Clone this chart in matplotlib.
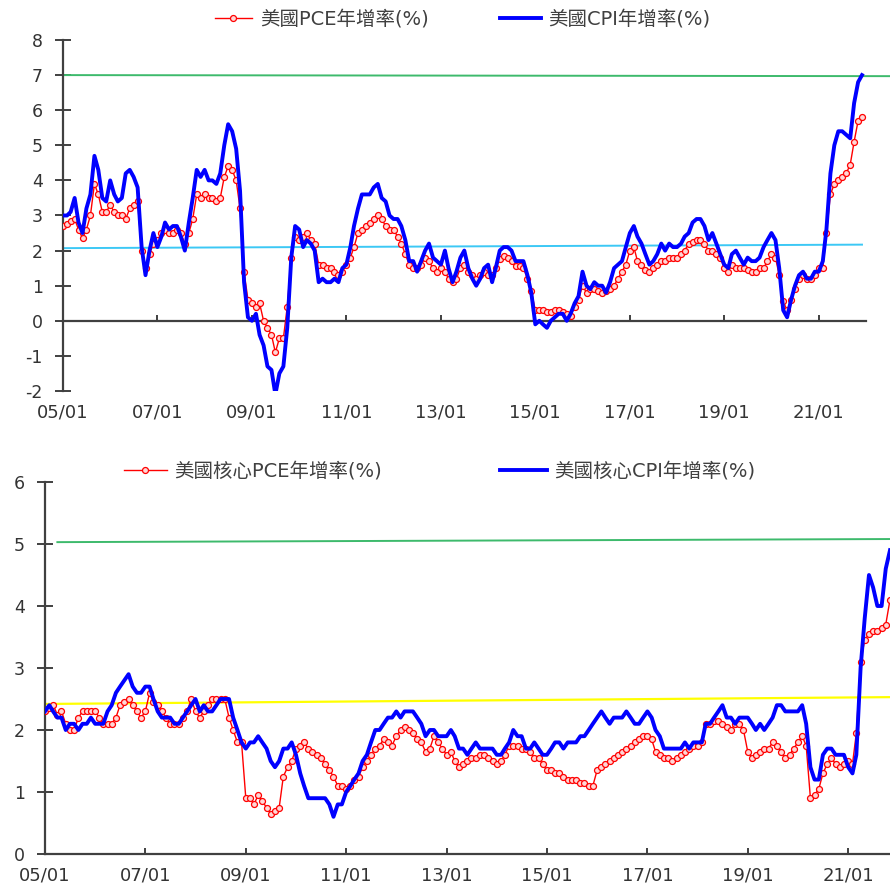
import matplotlib
matplotlib.use("Agg")
import matplotlib.pyplot as plt
import matplotlib.dates as mdates
import pandas as pd

plt.rcParams['font.family'] = ['DejaVu Sans', 'Noto Sans CJK TC']
plt.rcParams['axes.unicode_minus'] = False

# monthly YoY, 2005/01 - 2021/12
pce = [
	2.7, 2.75, 2.85, 2.9, 2.6, 2.35, 2.6, 3.0, 3.9, 3.6, 3.1, 3.1,
	3.3, 3.1, 3.0, 3.0, 2.9, 3.2, 3.3, 3.4, 2.0, 1.5, 1.9, 2.2,
	2.3, 2.5, 2.6, 2.5, 2.5, 2.6, 2.5, 2.2, 2.5, 2.9, 3.6, 3.5,
	3.6, 3.5, 3.5, 3.4, 3.5, 4.1, 4.4, 4.3, 4.0, 3.2, 1.4, 0.6,
	0.5, 0.4, 0.5, 0.0, -0.2, -0.4, -0.9, -0.5, -0.5, 0.4, 1.8, 2.4,
	2.3, 2.4, 2.5, 2.3, 2.2, 1.6, 1.6, 1.5, 1.5, 1.4, 1.3, 1.4,
	1.6, 1.8, 2.1, 2.5, 2.6, 2.7, 2.8, 2.9, 3.0, 2.9, 2.7, 2.6,
	2.6, 2.4, 2.2, 1.9, 1.6, 1.5, 1.5, 1.6, 1.8, 1.7, 1.5, 1.4,
	1.5, 1.4, 1.2, 1.1, 1.2, 1.5, 1.6, 1.4, 1.3, 1.2, 1.3, 1.4,
	1.3, 1.3, 1.5, 1.75, 1.85, 1.8, 1.7, 1.55, 1.55, 1.5, 1.2, 0.85,
	0.3, 0.3, 0.3, 0.25, 0.25, 0.3, 0.3, 0.25, 0.2, 0.15, 0.4, 0.6,
	1.0, 0.8, 0.9, 0.9, 0.85, 0.8, 0.85, 0.9, 1.0, 1.2, 1.4, 1.6,
	2.0, 2.1, 1.7, 1.6, 1.45, 1.4, 1.5, 1.6, 1.7, 1.7, 1.8, 1.8,
	1.8, 1.9, 2.0, 2.2, 2.25, 2.3, 2.3, 2.2, 2.0, 2.0, 1.9, 1.8,
	1.5, 1.4, 1.6, 1.5, 1.5, 1.5, 1.45, 1.4, 1.4, 1.5, 1.5, 1.7,
	1.9, 1.8, 1.3, 0.55, 0.3, 0.6, 0.9, 1.2, 1.3, 1.2, 1.2, 1.3,
	1.5, 1.5, 2.5, 3.6, 3.9, 4.0, 4.1, 4.2, 4.45, 5.1, 5.7, 5.8,
]
cpi = [
	3.0, 3.0, 3.1, 3.5, 2.8, 2.5, 3.2, 3.6, 4.7, 4.3, 3.5, 3.4,
	4.0, 3.6, 3.4, 3.5, 4.2, 4.3, 4.1, 3.8, 2.1, 1.3, 2.0, 2.5,
	2.1, 2.4, 2.8, 2.6, 2.7, 2.7, 2.4, 2.0, 2.8, 3.5, 4.3, 4.1,
	4.3, 4.0, 4.0, 3.9, 4.2, 5.0, 5.6, 5.4, 4.9, 3.7, 1.1, 0.1,
	0.0, 0.2, -0.4, -0.7, -1.3, -1.4, -2.1, -1.5, -1.3, -0.2, 1.8, 2.7,
	2.6, 2.1, 2.3, 2.2, 2.0, 1.1, 1.2, 1.1, 1.1, 1.2, 1.1, 1.5,
	1.6, 2.1, 2.7, 3.2, 3.6, 3.6, 3.6, 3.8, 3.9, 3.5, 3.4, 3.0,
	2.9, 2.9, 2.7, 2.3, 1.7, 1.7, 1.4, 1.7, 2.0, 2.2, 1.8, 1.7,
	1.6, 2.0, 1.5, 1.1, 1.4, 1.8, 2.0, 1.5, 1.2, 1.0, 1.2, 1.5,
	1.6, 1.1, 1.5, 2.0, 2.1, 2.1, 2.0, 1.7, 1.7, 1.7, 1.3, 0.8,
	-0.1, 0.0, -0.1, -0.2, 0.0, 0.1, 0.2, 0.2, 0.0, 0.2, 0.5, 0.7,
	1.4, 1.0, 0.9, 1.1, 1.0, 1.0, 0.8, 1.1, 1.5, 1.6, 1.7, 2.1,
	2.5, 2.7, 2.4, 2.2, 1.9, 1.6, 1.7, 1.9, 2.2, 2.0, 2.2, 2.1,
	2.1, 2.2, 2.4, 2.5, 2.8, 2.9, 2.9, 2.7, 2.3, 2.5, 2.2, 1.9,
	1.6, 1.5, 1.9, 2.0, 1.8, 1.6, 1.8, 1.7, 1.7, 1.8, 2.1, 2.3,
	2.5, 2.3, 1.5, 0.3, 0.1, 0.6, 1.0, 1.3, 1.4, 1.2, 1.2, 1.4,
	1.4, 1.7, 2.6, 4.2, 5.0, 5.4, 5.4, 5.3, 5.2, 6.2, 6.8, 7.0,
]

# monthly YoY, 2005/01 - 2021/11
core_pce = [
	2.3, 2.35, 2.4, 2.25, 2.3, 2.1, 2.0, 2.0, 2.2, 2.3, 2.3, 2.3,
	2.3, 2.2, 2.1, 2.1, 2.1, 2.2, 2.4, 2.45, 2.5, 2.4, 2.3, 2.2,
	2.3, 2.6, 2.45, 2.4, 2.3, 2.2, 2.1, 2.1, 2.1, 2.2, 2.3, 2.5,
	2.3, 2.2, 2.3, 2.4, 2.5, 2.5, 2.5, 2.5, 2.2, 2.0, 1.8, 1.8,
	0.9, 0.9, 0.8, 0.95, 0.85, 0.75, 0.65, 0.7, 0.75, 1.25, 1.4, 1.5,
	1.7, 1.75, 1.8, 1.7, 1.65, 1.6, 1.55, 1.45, 1.35, 1.25, 1.1, 1.1,
	1.05, 1.1, 1.2, 1.25, 1.4, 1.5, 1.6, 1.7, 1.75, 1.85, 1.8, 1.75,
	1.9, 2.0, 2.05, 2.0, 1.95, 1.85, 1.8, 1.65, 1.7, 1.9, 1.8, 1.7,
	1.6, 1.65, 1.5, 1.4, 1.45, 1.5, 1.55, 1.55, 1.6, 1.6, 1.55, 1.5,
	1.45, 1.5, 1.6, 1.75, 1.75, 1.75, 1.7, 1.7, 1.65, 1.55, 1.55, 1.45,
	1.35, 1.35, 1.3, 1.3, 1.25, 1.2, 1.2, 1.2, 1.15, 1.15, 1.1, 1.1,
	1.35, 1.4, 1.45, 1.5, 1.55, 1.6, 1.65, 1.7, 1.75, 1.8, 1.85, 1.9,
	1.9, 1.85, 1.65, 1.6, 1.55, 1.55, 1.5, 1.55, 1.6, 1.65, 1.7, 1.75,
	1.75, 1.8, 2.1, 2.1, 2.15, 2.15, 2.1, 2.05, 2.0, 2.1, 2.1, 2.0,
	1.65, 1.55, 1.6, 1.65, 1.7, 1.7, 1.8, 1.75, 1.65, 1.55, 1.6, 1.7,
	1.8, 1.9, 1.75, 0.9, 0.95, 1.05, 1.3, 1.45, 1.55, 1.45, 1.4, 1.45,
	1.5, 1.45, 1.95, 3.1, 3.45, 3.55, 3.6, 3.6, 3.65, 3.7, 4.1,
]
core_cpi = [
	2.3, 2.4, 2.3, 2.2, 2.2, 2.0, 2.1, 2.1, 2.0, 2.1, 2.1, 2.2,
	2.1, 2.1, 2.1, 2.3, 2.4, 2.6, 2.7, 2.8, 2.9, 2.7, 2.6, 2.6,
	2.7, 2.7, 2.5, 2.3, 2.2, 2.2, 2.2, 2.1, 2.1, 2.2, 2.3, 2.4,
	2.5, 2.3, 2.4, 2.3, 2.3, 2.4, 2.5, 2.5, 2.5, 2.2, 2.0, 1.8,
	1.7, 1.8, 1.8, 1.9, 1.8, 1.7, 1.5, 1.4, 1.5, 1.7, 1.7, 1.8,
	1.6, 1.3, 1.1, 0.9, 0.9, 0.9, 0.9, 0.9, 0.8, 0.6, 0.8, 0.8,
	1.0, 1.1, 1.2, 1.3, 1.5, 1.6, 1.8, 2.0, 2.0, 2.1, 2.2, 2.2,
	2.3, 2.2, 2.3, 2.3, 2.3, 2.2, 2.1, 1.9, 2.0, 2.0, 1.9, 1.9,
	1.9, 2.0, 1.9, 1.7, 1.7, 1.6, 1.7, 1.8, 1.7, 1.7, 1.7, 1.7,
	1.6, 1.6, 1.7, 1.8, 2.0, 1.9, 1.9, 1.7, 1.7, 1.8, 1.7, 1.6,
	1.6, 1.7, 1.8, 1.8, 1.7, 1.8, 1.8, 1.8, 1.9, 1.9, 2.0, 2.1,
	2.2, 2.3, 2.2, 2.1, 2.2, 2.2, 2.2, 2.3, 2.2, 2.1, 2.1, 2.2,
	2.3, 2.2, 2.0, 1.9, 1.7, 1.7, 1.7, 1.7, 1.7, 1.8, 1.7, 1.8,
	1.8, 1.8, 2.1, 2.1, 2.2, 2.3, 2.4, 2.2, 2.2, 2.1, 2.2, 2.2,
	2.2, 2.1, 2.0, 2.1, 2.0, 2.1, 2.2, 2.4, 2.4, 2.3, 2.3, 2.3,
	2.3, 2.4, 2.1, 1.4, 1.2, 1.2, 1.6, 1.7, 1.7, 1.6, 1.6, 1.6,
	1.4, 1.3, 1.6, 3.0, 3.8, 4.5, 4.3, 4.0, 4.0, 4.6, 4.9,
]

# reference lines (start / end values)
top_green_dates = ['2005-01-01', '2022-07-01']
top_green_vals = [7.0, 6.97]
top_trend_dates = ['2005-01-01', '2021-12-01']
top_trend_vals = [2.07, 2.17]
bot_green_dates = ['2005-04-01', '2021-11-01']
bot_green_vals = [5.03, 5.08]
bot_trend_dates = ['2005-01-01', '2021-11-01']
bot_trend_vals = [2.42, 2.53]

labels_top = ['美國PCE年增率(%)', '美國CPI年增率(%)']
labels_bot = ['美國核心PCE年增率(%)', '美國核心CPI年增率(%)']

tick_dates = mdates.date2num(pd.date_range('2005-01-01', '2021-01-01', freq='24MS'))
x_top = mdates.date2num(pd.date_range('2005-01-01', periods=len(cpi), freq='MS'))
x_bot = mdates.date2num(pd.date_range('2005-01-01', periods=len(core_cpi), freq='MS'))

AX_COLOR = '#404040'
TXT_COLOR = '#333333'
RED = '#ff0000'
BLUE = '#0000ff'

fig = plt.figure(figsize=(8.9, 8.89), dpi=100)
ax1 = fig.add_axes([63 / 890, 1 - 391 / 889, (866 - 63) / 890, (391 - 40) / 889])
ax2 = fig.add_axes([45 / 890, 1 - 854 / 889, (890 - 45) / 890, (854 - 482) / 889])


def style_axes(ax, ylo, yhi, xend):
	for s in ['top', 'right']:
		ax.spines[s].set_visible(False)
	ax.spines['left'].set_color(AX_COLOR)
	ax.spines['left'].set_linewidth(1.6)
	ax.spines['bottom'].set_color(AX_COLOR)
	ax.spines['bottom'].set_linewidth(1.6)
	ax.set_ylim(ylo, yhi)
	ax.set_yticks(range(ylo, yhi + 1))
	ax.set_xlim(mdates.date2num(pd.Timestamp('2005-01-01')), mdates.date2num(pd.Timestamp(xend)))
	ax.set_xticks(tick_dates)
	ax.xaxis.set_major_formatter(mdates.DateFormatter('%y/%m'))
	ax.tick_params(axis='y', direction='inout', length=11, width=1.4, color=AX_COLOR,
				   labelsize=12.5, labelcolor=TXT_COLOR, pad=9)
	ax.tick_params(axis='x', direction='in', length=4, width=1.4, color=AX_COLOR,
				   labelsize=13, labelcolor=TXT_COLOR, pad=9)


def add_legend_item(handle, label, x_px, y_px, hlen):
	# one legend entry, left edge placed at x_px
	leg = fig.legend(handles=[handle], labels=[label], loc='center left',
					 bbox_to_anchor=(x_px / 890, 1 - y_px / 889), frameon=False, fontsize=14,
					 labelcolor='#404040', handlelength=hlen, handletextpad=0.4, numpoints=1,
					 borderpad=0, borderaxespad=0)
	return leg


# top chart
l_pce, = ax1.plot(x_top, pce, color=RED, lw=1.0, marker='o', ms=4.3, mfc='#ffd6d6', mec=RED, mew=0.9,
				  zorder=3)
l_cpi, = ax1.plot(x_top, cpi, color=BLUE, lw=2.8, zorder=4)
green_top, = ax1.plot(mdates.date2num(pd.to_datetime(top_green_dates)), top_green_vals, color='#3dba6c',
					  lw=1.4, zorder=2)
green_top.set_clip_on(False)
ax1.plot(mdates.date2num(pd.to_datetime(top_trend_dates)), top_trend_vals, color='#3cc8f5', lw=1.4, zorder=2)
style_axes(ax1, -2, 8, '2022-01-01')
ax1.spines['bottom'].set_position(('data', 0))
ax1.tick_params(axis='x', labelbottom=False)
sec = ax1.secondary_xaxis(0.0)
sec.set_xticks(tick_dates)
sec.xaxis.set_major_formatter(mdates.DateFormatter('%y/%m'))
sec.spines['bottom'].set_visible(False)
sec.tick_params(axis='x', length=0, labelsize=13, labelcolor=TXT_COLOR, pad=9)

add_legend_item(l_pce, labels_top[0], 215, 19, 1.9)
add_legend_item(l_cpi, labels_top[1], 500, 19, 2.1)

# bottom chart
l_cpce, = ax2.plot(x_bot, core_pce, color=RED, lw=1.0, marker='o', ms=4.3, mfc='#ffd6d6', mec=RED, mew=0.9,
				   zorder=3)
l_ccpi, = ax2.plot(x_bot, core_cpi, color=BLUE, lw=2.8, zorder=4)
ax2.plot(mdates.date2num(pd.to_datetime(bot_green_dates)), bot_green_vals, color='#3dba6c', lw=1.4, zorder=2)
ax2.plot(mdates.date2num(pd.to_datetime(bot_trend_dates)), bot_trend_vals, color='#ffff00', lw=1.6, zorder=2)
style_axes(ax2, 0, 6, '2021-11-01')

add_legend_item(l_cpce, labels_bot[0], 124, 471, 2.2)
add_legend_item(l_ccpi, labels_bot[1], 500, 471, 2.4)

fig.savefig('out.png', dpi=100)
